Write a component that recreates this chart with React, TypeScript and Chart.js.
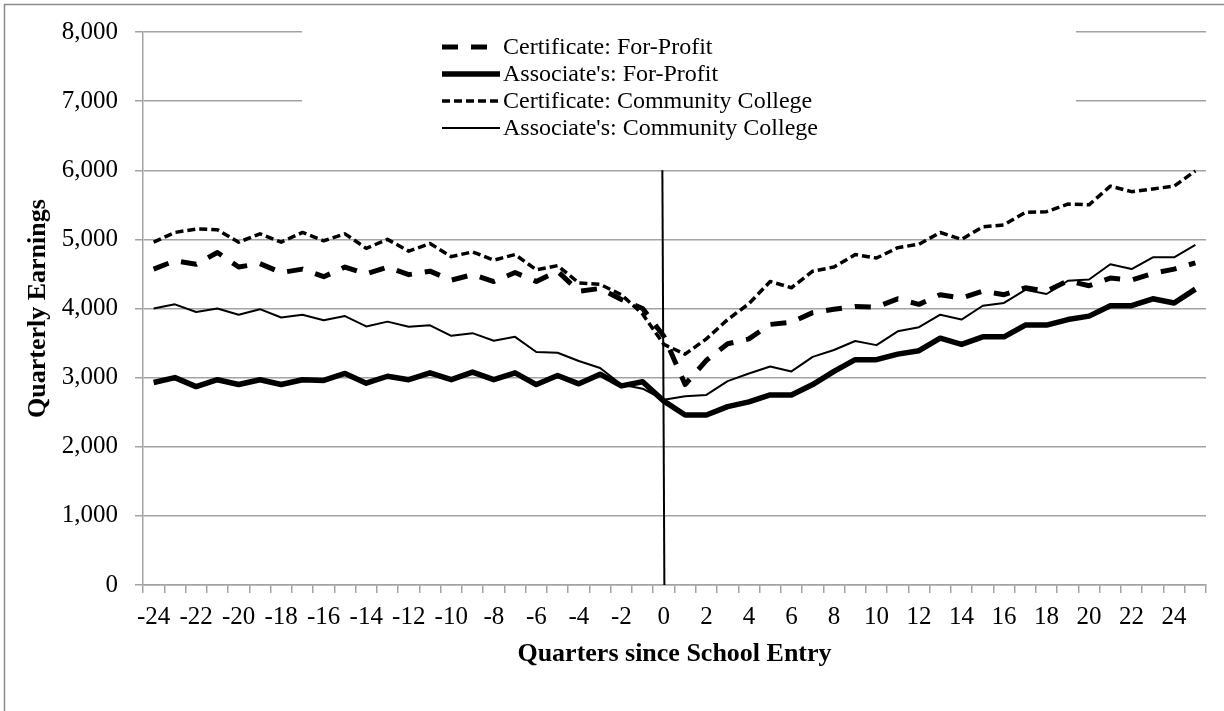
import React, { useEffect, useRef } from 'react';
import { Chart, registerables } from 'chart.js';

Chart.register(...registerables);

// ---------- data ----------
const quarters = [
  -24, -23, -22, -21, -20, -19, -18, -17, -16, -15, -14, -13, -12, -11, -10, -9, -8, -7, -6, -5, -4, -3, -2, -1,
  0, 1, 2, 3, 4, 5, 6, 7, 8, 9, 10, 11, 12, 13, 14, 15, 16, 17, 18, 19, 20, 21, 22, 23, 24, 25,
];

const certForProfit = [
  4570, 4690, 4640, 4810, 4600, 4650, 4520, 4570, 4460, 4600, 4500, 4600, 4490, 4540, 4410, 4490, 4390, 4520, 4390, 4540, 4250, 4290, 4130, 4000,
  3600, 2900, 3250, 3490, 3560, 3770, 3800, 3940, 3990, 4030, 4020, 4140, 4060, 4200, 4150, 4250, 4200, 4300, 4250, 4400, 4330, 4440, 4410, 4510, 4570, 4660,
];

const assocForProfit = [
  2930, 3000, 2870, 2970, 2900, 2970, 2900, 2970, 2960, 3060, 2920, 3020, 2970, 3070, 2970, 3080, 2970, 3070, 2900, 3030, 2910, 3050, 2880, 2940,
  2660, 2460, 2460, 2580, 2650, 2750, 2750, 2900, 3090, 3260, 3260, 3340, 3390, 3570, 3480, 3590, 3590, 3760, 3760, 3840, 3890, 4040, 4040, 4140, 4080, 4280,
];

const certCommunity = [
  4960, 5100, 5150, 5140, 4960, 5080, 4960, 5100, 4980, 5080, 4870, 5000, 4830, 4940, 4750, 4820, 4700, 4780, 4560, 4620, 4370, 4350, 4200, 3920,
  3480, 3340, 3560, 3840, 4070, 4390, 4300, 4540, 4600, 4780, 4730, 4880, 4930, 5100, 5000, 5180, 5210, 5390, 5400, 5510, 5500, 5770, 5690, 5730, 5770, 5990,
];

const assocCommunity = [
  4000, 4060, 3950, 4000, 3910, 3990, 3870, 3910, 3830, 3890, 3740, 3810, 3735, 3757, 3605, 3643, 3533, 3590, 3370, 3360, 3240, 3140, 2900, 2840,
  2680, 2730, 2750, 2950, 3060, 3160, 3090, 3300, 3400, 3530, 3470, 3670, 3730, 3910, 3840, 4040, 4080, 4270, 4210, 4400, 4420, 4640, 4570, 4740, 4740, 4920,
];

const seriesLabels = [
  'Certificate: For-Profit',
  "Associate's: For-Profit",
  'Certificate: Community College',
  "Associate's: Community College",
];

// school-entry marker: quarter and value range of the vertical line
const entryQuarter = [0];
const entryRange = [6000, 0];

const yMin = 0;
const yMax = 8000;
const yStep = 1000;

const xTitle = 'Quarters since School Entry';
const yTitle = 'Quarterly Earnings';

// ---------- styles ----------
const FONT = "'Liberation Serif', 'Times New Roman', serif";
const GRID = '#a3a3a3';

const styles = [
  { width: 5, dash: [16, 13] },
  { width: 5.5, dash: [] as number[] },
  { width: 3.5, dash: [8, 4] },
  { width: 2, dash: [] as number[] },
];

const framePlugin = {
  id: 'frame',
  beforeDraw(chart: any) {
    const { ctx, width, height } = chart;
    ctx.save();
    ctx.fillStyle = '#ffffff';
    ctx.fillRect(0, 0, width, height);
    ctx.strokeStyle = '#8c8c8c';
    ctx.lineWidth = 1.5;
    ctx.strokeRect(4.5, 4.5, width + 50, height + 50);
    ctx.restore();
  },
};

const LEGEND_BOX = { x0: 302, x1: 1076, y0: 30, y1: 152 };
const LEGEND_ROWS = [47, 74, 101, 128];

const legendBgPlugin = {
  id: 'legendBg',
  beforeDatasetsDraw(chart: any) {
    const { ctx } = chart;
    ctx.save();
    ctx.fillStyle = '#ffffff';
    ctx.fillRect(LEGEND_BOX.x0, LEGEND_BOX.y0, LEGEND_BOX.x1 - LEGEND_BOX.x0, LEGEND_BOX.y1 - LEGEND_BOX.y0);
    ctx.restore();
  },
};

const overlayPlugin = {
  id: 'overlay',
  afterDatasetsDraw(chart: any) {
    const { ctx } = chart;
    const xs = chart.scales.x;
    const ys = chart.scales.y;
    // vertical school-entry line
    const idx = quarters.indexOf(entryQuarter[0]);
    const px = xs.getPixelForValue(idx);
    ctx.save();
    ctx.strokeStyle = '#000';
    ctx.lineWidth = 2;
    ctx.beginPath();
    ctx.moveTo(px - 1.5, ys.getPixelForValue(entryRange[0]));
    ctx.lineTo(px + 0.5, ys.getPixelForValue(entryRange[1]));
    ctx.stroke();

    // legend
    const sx0 = 442;
    const sx1 = 500;
    const tx = 503;
    ctx.font = `24px ${FONT}`;
    ctx.fillStyle = '#000';
    ctx.textBaseline = 'middle';
    ctx.textAlign = 'left';
    seriesLabels.forEach((lab, i) => {
      const y = LEGEND_ROWS[i];
      ctx.beginPath();
      ctx.lineWidth = styles[i].width;
      ctx.setLineDash(styles[i].dash);
      ctx.lineCap = 'butt';
      ctx.moveTo(sx0, y);
      ctx.lineTo(sx1, y);
      ctx.stroke();
      ctx.setLineDash([]);
      ctx.fillText(lab, tx, y + 1);
    });
    ctx.restore();
  },
};

export default function App() {
  const ref = useRef<HTMLCanvasElement | null>(null);

  useEffect(() => {
    if (!ref.current) return;
    const seriesData = [certForProfit, assocForProfit, certCommunity, assocCommunity];
    const chart = new Chart(ref.current, {
      type: 'line',
      data: {
        labels: quarters.map(String),
        datasets: seriesData.map((d, i) => ({
          label: seriesLabels[i],
          data: d,
          borderColor: '#000',
          backgroundColor: '#000',
          borderWidth: styles[i].width,
          borderDash: styles[i].dash,
          borderJoinStyle: 'round' as const,
          pointRadius: 0,
          pointHoverRadius: 0,
          tension: 0,
          fill: false,
        })),
      },
      options: {
        responsive: false,
        animation: false,
        events: [],
        layout: { padding: { top: 25, right: 18, left: 0, bottom: 0 } },
        plugins: {
          legend: { display: false },
          tooltip: { enabled: false },
        },
        scales: {
          x: {
            type: 'category',
            offset: true,
            afterFit: (s: any) => {
              s.height = 126;
            },
            grid: {
              offset: true,
              drawOnChartArea: false,
              drawTicks: true,
              tickLength: 8,
              color: GRID,
              lineWidth: 1.5,
            },
            border: { color: GRID, width: 1.5 },
            ticks: {
              autoSkip: false,
              maxRotation: 0,
              minRotation: 0,
              padding: 9,
              color: '#000',
              font: { family: FONT, size: 25 },
              callback: (_v: any, i: number) => (i % 2 === 0 ? String(quarters[i]) : ''),
            },
            title: {
              display: true,
              text: xTitle,
              color: '#000',
              font: { family: FONT, size: 26, weight: 'bold' },
              padding: { top: 0, bottom: 41 },
            },
          },
          y: {
            min: yMin,
            max: yMax,
            afterFit: (s: any) => {
              s.width = 143;
            },
            grid: {
              color: GRID,
              lineWidth: 1.5,
              drawTicks: true,
              tickLength: 8,
            },
            border: { color: GRID, width: 1.5 },
            ticks: {
              stepSize: yStep,
              padding: 17,
              color: '#000',
              font: { family: FONT, size: 25 },
              callback: (v: any) => Number(v).toLocaleString('en-US'),
            },
            title: {
              display: true,
              text: yTitle,
              color: '#000',
              font: { family: FONT, size: 26, weight: 'bold' },
              padding: { top: 23, bottom: 0 },
            },
          },
        },
      },
      plugins: [framePlugin, legendBgPlugin, overlayPlugin],
    });
    return () => chart.destroy();
  }, []);

  return (
    <div style={{ position: 'fixed', left: 0, top: 0, width: 1224, height: 711, overflow: 'hidden', background: '#fff' }}>
      <canvas ref={ref} width={1224} height={711} style={{ display: 'block', width: 1224, height: 711 }} />
    </div>
  );
}
